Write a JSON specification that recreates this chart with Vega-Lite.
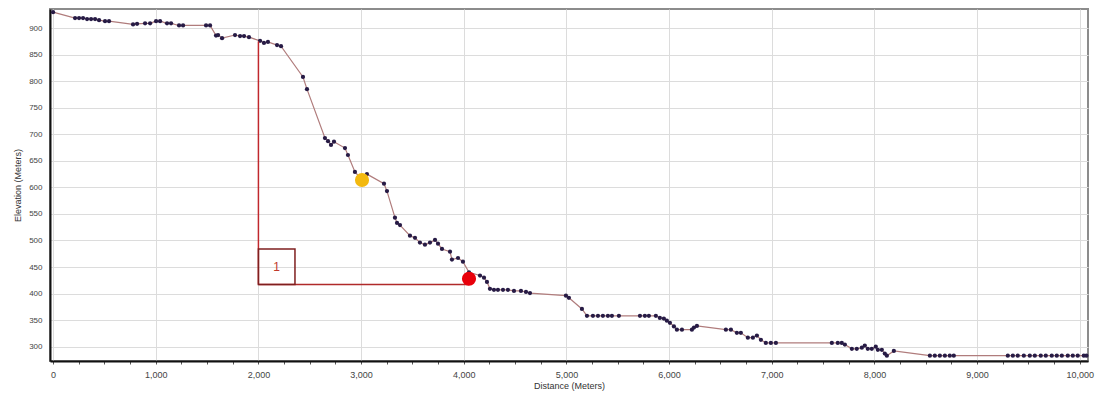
{
  "$schema": "https://vega.github.io/schema/vega-lite/v6.json",
  "width": 1038,
  "height": 352,
  "autosize": {"type": "none"},
  "padding": {"left": 50, "top": 9, "right": 30, "bottom": 33},
  "background": "white",
  "config": {
    "view": {"stroke": "#8c8c8c", "strokeWidth": 2},
    "axis": {
      "labelFont": "Liberation Sans",
      "titleFont": "Liberation Sans",
      "labelFontSize": 9,
      "titleFontSize": 9,
      "titleFontWeight": "normal",
      "labelColor": "#444444",
      "titleColor": "#333333",
      "gridColor": "#dcdcdc",
      "gridWidth": 1,
      "domainColor": "#111111",
      "domainWidth": 2,
      "ticks": false,
      "labelOverlap": false,
      "labelFlush": false
    }
  },
  "datasets": {
    "profile": [
      {"d": 0, "e": 930}, {"d": 214, "e": 919}, {"d": 253, "e": 919}, {"d": 292, "e": 919},
      {"d": 331, "e": 917}, {"d": 370, "e": 917}, {"d": 409, "e": 917}, {"d": 448, "e": 915},
      {"d": 506, "e": 913}, {"d": 545, "e": 913}, {"d": 779, "e": 907}, {"d": 818, "e": 908},
      {"d": 896, "e": 909}, {"d": 945, "e": 909}, {"d": 1003, "e": 913}, {"d": 1042, "e": 913},
      {"d": 1110, "e": 909}, {"d": 1149, "e": 909}, {"d": 1227, "e": 905}, {"d": 1266, "e": 905},
      {"d": 1490, "e": 905}, {"d": 1529, "e": 905}, {"d": 1587, "e": 886}, {"d": 1607, "e": 887},
      {"d": 1646, "e": 881}, {"d": 1772, "e": 887}, {"d": 1821, "e": 885}, {"d": 1860, "e": 885},
      {"d": 1908, "e": 883}, {"d": 2016, "e": 876}, {"d": 2054, "e": 872}, {"d": 2093, "e": 874},
      {"d": 2181, "e": 868}, {"d": 2220, "e": 866}, {"d": 2434, "e": 808}, {"d": 2473, "e": 785},
      {"d": 2648, "e": 693}, {"d": 2678, "e": 687}, {"d": 2707, "e": 680}, {"d": 2736, "e": 686},
      {"d": 2843, "e": 674}, {"d": 2872, "e": 661}, {"d": 2940, "e": 629}, {"d": 3009, "e": 614},
      {"d": 3057, "e": 625}, {"d": 3223, "e": 607}, {"d": 3252, "e": 593}, {"d": 3330, "e": 543},
      {"d": 3350, "e": 533}, {"d": 3379, "e": 529}, {"d": 3476, "e": 509}, {"d": 3525, "e": 505},
      {"d": 3573, "e": 496}, {"d": 3622, "e": 492}, {"d": 3671, "e": 496}, {"d": 3720, "e": 501},
      {"d": 3749, "e": 494}, {"d": 3788, "e": 484}, {"d": 3866, "e": 479}, {"d": 3885, "e": 464},
      {"d": 3944, "e": 467}, {"d": 3992, "e": 460}, {"d": 4051, "e": 440}, {"d": 4158, "e": 434},
      {"d": 4197, "e": 430}, {"d": 4226, "e": 422}, {"d": 4255, "e": 409}, {"d": 4294, "e": 407},
      {"d": 4333, "e": 407}, {"d": 4382, "e": 407}, {"d": 4430, "e": 407}, {"d": 4489, "e": 405},
      {"d": 4557, "e": 405}, {"d": 4606, "e": 403}, {"d": 4645, "e": 401}, {"d": 4995, "e": 396},
      {"d": 5024, "e": 392}, {"d": 5151, "e": 371}, {"d": 5200, "e": 358}, {"d": 5258, "e": 358},
      {"d": 5307, "e": 358}, {"d": 5355, "e": 358}, {"d": 5404, "e": 358}, {"d": 5443, "e": 358},
      {"d": 5511, "e": 358}, {"d": 5716, "e": 358}, {"d": 5764, "e": 358}, {"d": 5803, "e": 358},
      {"d": 5871, "e": 358}, {"d": 5910, "e": 354}, {"d": 5949, "e": 353}, {"d": 5978, "e": 349},
      {"d": 6008, "e": 345}, {"d": 6047, "e": 338}, {"d": 6076, "e": 332}, {"d": 6125, "e": 332},
      {"d": 6222, "e": 332}, {"d": 6242, "e": 336}, {"d": 6271, "e": 339}, {"d": 6553, "e": 332},
      {"d": 6602, "e": 332}, {"d": 6660, "e": 326}, {"d": 6699, "e": 326}, {"d": 6767, "e": 317},
      {"d": 6816, "e": 317}, {"d": 6855, "e": 321}, {"d": 6894, "e": 313}, {"d": 6942, "e": 307},
      {"d": 6991, "e": 307}, {"d": 7040, "e": 307}, {"d": 7585, "e": 307}, {"d": 7643, "e": 307},
      {"d": 7682, "e": 307}, {"d": 7712, "e": 304}, {"d": 7780, "e": 296}, {"d": 7828, "e": 296},
      {"d": 7877, "e": 298}, {"d": 7906, "e": 302}, {"d": 7935, "e": 296}, {"d": 7974, "e": 296},
      {"d": 8013, "e": 300}, {"d": 8033, "e": 294}, {"d": 8072, "e": 294}, {"d": 8101, "e": 287},
      {"d": 8121, "e": 283}, {"d": 8189, "e": 292}, {"d": 8540, "e": 283}, {"d": 8588, "e": 283},
      {"d": 8637, "e": 283}, {"d": 8686, "e": 283}, {"d": 8734, "e": 283}, {"d": 8773, "e": 283},
      {"d": 9299, "e": 283}, {"d": 9348, "e": 283}, {"d": 9396, "e": 283}, {"d": 9455, "e": 283},
      {"d": 9513, "e": 283}, {"d": 9562, "e": 283}, {"d": 9620, "e": 283}, {"d": 9669, "e": 283},
      {"d": 9727, "e": 283}, {"d": 9776, "e": 283}, {"d": 9825, "e": 283}, {"d": 9883, "e": 283},
      {"d": 9932, "e": 283}, {"d": 9980, "e": 283}, {"d": 10039, "e": 283}, {"d": 10065, "e": 283}
    ],
    "vert": [{"d": 2000, "e": 417, "e2": 875}],
    "horiz": [{"d": 2000, "d2": 4051, "e": 417}],
    "box": [{"d": 2000, "d2": 2356, "e": 417, "e2": 484}],
    "boxlabel": [{"d": 2178, "e": 450, "label": "1"}],
    "markers": [
      {"d": 3009, "e": 614, "kind": "current"},
      {"d": 4051, "e": 428, "kind": "target"}
    ]
  },
  "encoding": {
    "x": {
      "field": "d", "type": "quantitative",
      "scale": {"domain": [-30, 10080], "nice": false, "zero": false},
      "axis": {
        "title": "Distance (Meters)",
        "values": [0, 250, 500, 750, 1000, 1250, 1500, 1750, 2000, 2250, 2500, 2750, 3000, 3250, 3500, 3750, 4000, 4250, 4500, 4750, 5000, 5250, 5500, 5750, 6000, 6250, 6500, 6750, 7000, 7250, 7500, 7750, 8000, 8250, 8500, 8750, 9000, 9250, 9500, 9750, 10000],
        "labelExpr": "datum.value % 1000 === 0 ? format(datum.value, ',') : ''",
        "gridColor": {"condition": {"test": "datum.value % 1000 === 0", "value": "#dcdcdc"}, "value": "transparent"},
        "ticks": true, "tickSize": 3, "tickColor": "#555555", "tickWidth": 1,
        "labelPadding": 6, "titlePadding": 2, "labelOverlap": false
      }
    },
    "y": {
      "field": "e", "type": "quantitative",
      "scale": {"domain": [273, 936], "nice": false, "zero": false},
      "axis": {"title": "Elevation (Meters)", "values": [300, 350, 400, 450, 500, 550, 600, 650, 700, 750, 800, 850, 900], "tickCount": 14, "format": "d", "labelPadding": 8, "titlePadding": 6, "labelOverlap": false, "labelSeparation": 0, "labelFontSize": 8}
    }
  },
  "layer": [
    {
      "data": {"name": "profile"},
      "mark": {"type": "line", "color": "#b07c7c", "strokeWidth": 1.2}
    },
    {
      "data": {"name": "profile"},
      "mark": {"type": "point", "filled": true, "color": "#271b45", "size": 18, "opacity": 1}
    },
    {
      "data": {"name": "vert"},
      "mark": {"type": "rule", "color": "#c0282d", "strokeWidth": 1.5},
      "encoding": {"y2": {"field": "e2"}}
    },
    {
      "data": {"name": "horiz"},
      "mark": {"type": "rule", "color": "#b02a2a", "strokeWidth": 1.5},
      "encoding": {"x2": {"field": "d2"}}
    },
    {
      "data": {"name": "box"},
      "mark": {"type": "rect", "fillOpacity": 0, "fill": "white", "stroke": "#7f1f1f", "strokeWidth": 1.5},
      "encoding": {"x2": {"field": "d2"}, "y2": {"field": "e2"}}
    },
    {
      "data": {"name": "boxlabel"},
      "mark": {"type": "text", "color": "#c0392b", "fontSize": 12, "font": "Liberation Sans"},
      "encoding": {"text": {"field": "label"}}
    },
    {
      "data": {"name": "markers"},
      "mark": {"type": "circle", "size": 200, "opacity": 1},
      "encoding": {
        "color": {"field": "kind", "type": "nominal", "scale": {"domain": ["current", "target"], "range": ["#f3b90f", "#e8000b"]}, "legend": null}
      }
    }
  ]
}
